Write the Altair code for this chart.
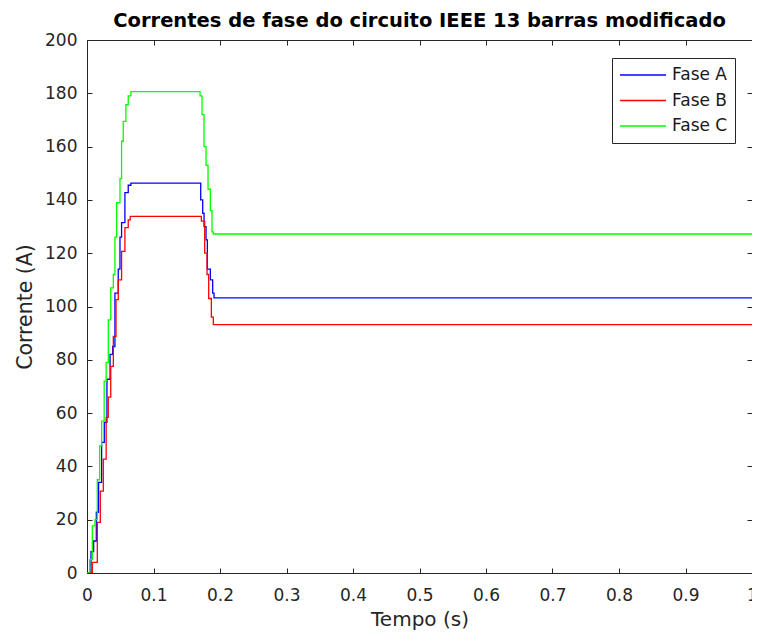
import altair as alt
import pandas as pd

# ---- data ----
series_names = ["Fase A", "Fase B", "Fase C"]
series_colors = ["#0000FF", "#FF0000", "#00FF00"]

t_a = [0, 0.003, 0.006, 0.010, 0.014, 0.0174, 0.022, 0.026, 0.030, 0.0347, 0.0386,
       0.042, 0.047, 0.0496, 0.052, 0.057, 0.062, 0.066, 0.171, 0.174, 0.176, 0.179,
       0.181, 0.1855, 0.189, 0.191, 1.0]
v_a = [0, 0, 8, 12, 22.8, 34, 49, 56.5, 72.7, 82, 85,
       105, 114, 126, 131.5, 142.7, 145.5, 146.3, 140, 135, 130, 125,
       114, 110, 105, 103.2, 103.2]

t_b = [0, 0.003, 0.008, 0.0155, 0.020, 0.0245, 0.0288, 0.032, 0.0357, 0.0396, 0.0436,
       0.047, 0.052, 0.057, 0.062, 0.065, 0.172, 0.177, 0.1805, 0.183, 0.187, 0.190, 1.0]
v_b = [0, 0, 4, 19, 30.7, 42.7, 58.4, 66, 77.5, 88.8, 102.6,
       110, 120.7, 129.6, 132.5, 133.8, 132, 120, 112, 103, 96, 93.2, 93.2]

t_c = [0, 0.004, 0.008, 0.012, 0.0155, 0.019, 0.022, 0.0258, 0.0288, 0.032, 0.0357,
       0.0396, 0.042, 0.0446, 0.0496, 0.052, 0.0545, 0.0585, 0.062, 0.066, 0.170, 0.173,
       0.176, 0.179, 0.182, 0.1855, 0.188, 0.190, 1.0]
v_c = [0, 5, 17.7, 20, 35, 47.7, 57, 72, 79, 95, 107,
       112, 126, 139, 148, 162, 169.5, 175.7, 179, 180.6, 179, 172,
       160, 153, 144, 136, 128, 127.2, 127.2]

x_ticks = [0, 0.1, 0.2, 0.3, 0.4, 0.5, 0.6, 0.7, 0.8, 0.9, 1]
y_ticks = [0, 20, 40, 60, 80, 100, 120, 140, 160, 180, 200]

rows = []
for name, ts, vs in zip(series_names, [t_a, t_b, t_c], [v_a, v_b, v_c]):
    for t, v in zip(ts, vs):
        rows.append({"t": t, "v": v, "s": name})
df = pd.DataFrame(rows)

W, H = 665, 533
AX = "#262626"
FONT = "DejaVu Sans"

xs = alt.Scale(domain=[0, 1], nice=False, zero=False)
ys = alt.Scale(domain=[0, 200], nice=False, zero=False)

base = alt.Chart(df)

main = base.mark_line(interpolate="step-after", clip=True, strokeWidth=1.3).encode(
    x=alt.X("t:Q", scale=xs, title="Tempo (s)",
            axis=alt.Axis(orient="bottom", values=x_ticks, format="~g", ticks=False,
                          domain=False, grid=False, labelPadding=14, labelFontSize=17,
                          labelColor=AX, labelFont=FONT, titleFont=FONT, titleFontSize=20,
                          titleFontWeight="normal", titleColor=AX, titlePadding=6,
                          labelFlush=False, labelOverlap=False)),
    y=alt.Y("v:Q", scale=ys, title="Corrente (A)",
            axis=alt.Axis(orient="left", values=y_ticks, format="d", ticks=False,
                          domain=False, grid=False, labelPadding=10, labelFontSize=17,
                          labelColor=AX, labelFont=FONT, titleFont=FONT, titleFontSize=20.5,
                          titleFontWeight="normal", titleColor=AX, titlePadding=9,
                          labelFlush=False, labelOverlap=False)),
    color=alt.Color("s:N", scale=alt.Scale(domain=series_names, range=series_colors),
                    legend=alt.Legend(title=None, orient="none", legendX=525, legendY=18,
                                      symbolType="stroke", symbolSize=2116,
                                      symbolStrokeWidth=1.3, labelFontSize=17,
                                      labelFont=FONT, labelColor="#1a1a1a", labelOffset=5,
                                      clipHeight=20, rowPadding=5.5, padding=7,
                                      strokeColor=AX, fillColor="white", cornerRadius=0)),
)

def tick_axis(orient, offset, vals):
    return alt.Axis(orient=orient, offset=offset, values=vals, labels=False, domain=False,
                    grid=False, ticks=True, tickSize=5, tickColor=AX, tickWidth=1)

inner1 = base.mark_line(opacity=0).encode(
    x=alt.X("t:Q", scale=xs, title="", axis=tick_axis("top", -H, x_ticks)),
    y=alt.Y("v:Q", scale=ys, title="", axis=tick_axis("right", -W, y_ticks)),
    detail="s:N",
)
inner2 = base.mark_line(opacity=0).encode(
    x=alt.X("t:Q", scale=xs, title="", axis=tick_axis("bottom", -H, x_ticks)),
    y=alt.Y("v:Q", scale=ys, title="", axis=tick_axis("left", -W, y_ticks)),
    detail="s:N",
)

chart = alt.layer(main, inner1, inner2).resolve_axis(
    x="independent", y="independent"
).properties(
    width=W, height=H,
    title=alt.TitleParams("Correntes de fase do circuito IEEE 13 barras modificado",
                          font=FONT, fontSize=19.5, fontWeight="bold", color="black",
                          frame="group", anchor="middle", baseline="bottom", offset=0, dy=19),
    autosize=alt.AutoSizeParams(type="none"),
    padding={"left": 79, "top": 32, "right": 0, "bottom": 59},
).configure(font=FONT).configure_view(stroke=AX, strokeWidth=1)

chart.save("out.html", embed_options={"renderer": "svg", "actions": False})
